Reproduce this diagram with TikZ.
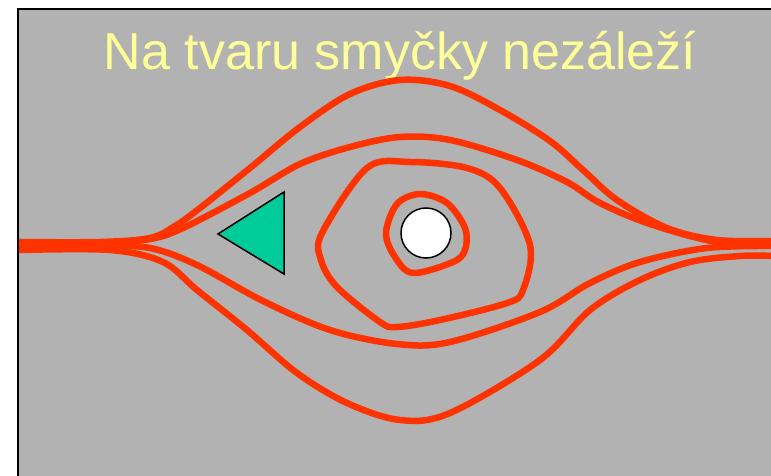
\documentclass[tikz,border=0pt]{standalone}
\usepackage{fontspec}
\setmainfont{Liberation Sans}
\definecolor{pozadi}{HTML}{B2B2B2}
\definecolor{smycka}{HTML}{FF3300}
\definecolor{trojuhelnik}{HTML}{00CC99}
\definecolor{nadpis}{HTML}{FFFF99}
\tikzset{
  proud/.style={smycka, line width=6.5pt, line join=round},
}
\begin{document}
\begin{tikzpicture}[x=1pt, y=-1pt]
        \useasboundingbox (0,0) rectangle (771,476);
        \coordinate (S) at (426,233);

        % Pozadi
        \fill[pozadi] (18,9) rectangle (780,485);
        \draw[line width=2pt] (18,485) -- (18,9) -- (780,9);

        \node[nadpis, font=\fontsize{52}{60}\selectfont, anchor=base] (title) at (400,70) {Na tvaru smyčky nezáleží};

        % Horni krivky
        \draw[proud] plot[smooth, tension=0.55] coordinates {(19,242) (100,242) (150,238) (175,226) (200,208) (250,168) (300,127) (350,94) (400,80) (450,86) (500,110) (550,141) (583,170) (617,200) (667,228) (717,240) (775,241)};
        \draw[proud] plot[smooth, tension=0.55] coordinates {(19,243) (100,243) (150,239) (183,228) (250,193) (300,164) (350,147) (400,137) (450,140) (517,160) (567,182) (600,203) (650,224) (717,242) (775,243)};

        % Dolni krivky
        \draw[proud] plot[smooth, tension=0.55] coordinates {(19,246) (100,246) (150,248) (197,265) (263,301) (330,330) (397,344) (450,342) (540,312) (590,283) (640,262) (707,248) (775,246)};
        \draw[proud] plot[smooth, tension=0.55] coordinates {(19,250) (110,250) (163,262) (197,290) (247,330) (297,373) (347,403) (400,420) (450,413) (540,360) (590,310) (640,280) (690,262) (740,256) (775,256)};

        % Smycky kolem kruhu
        \draw[proud] plot[smooth cycle, tension=0.55] coordinates {(367,168) (410,162) (467,168) (500,188) (530,245) (523,290) (507,303) (440,320) (397,327) (380,322) (337,287) (321,260) (322,233)};
        \draw[proud] plot[smooth cycle, tension=0.55] coordinates {(420,194) (447,203) (465,228) (465,250) (453,262) (413,273) (395,257) (386,233) (397,204)};

        \filldraw[fill=trojuhelnik, draw=black, line width=1.5pt, line join=miter] (218,234) -- (284,192) -- (284,274) -- cycle;
        \filldraw[fill=white, draw=black, line width=1.5pt] (S) circle (25);
    \end{tikzpicture}
\end{document}
